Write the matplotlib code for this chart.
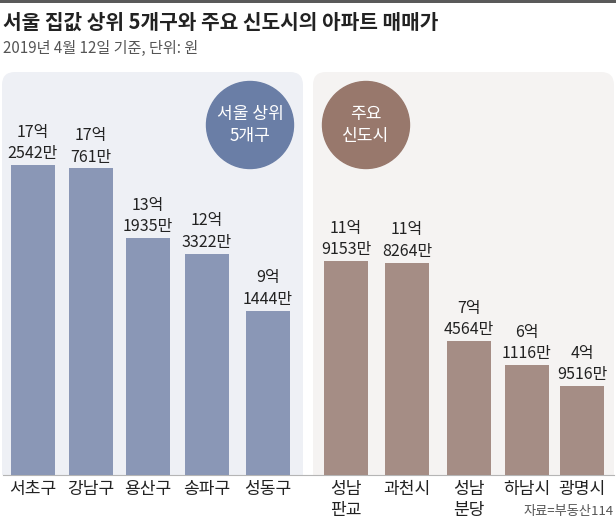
import matplotlib
matplotlib.use('Agg')
import matplotlib.pyplot as plt
from matplotlib.patches import FancyBboxPatch, Circle, Rectangle

plt.rcParams['font.family'] = ['Noto Sans CJK KR', 'DejaVu Sans']

# data: 억 units
seoul_names = ['서초구', '강남구', '용산구', '송파구', '성동구']
seoul_values = [17.2542, 17.0761, 13.1935, 12.3322, 9.1444]
seoul_labels = ['17억\n2542만', '17억\n761만', '13억\n1935만', '12억\n3322만', '9억\n1444만']

city_names = ['성남\n판교', '과천시', '성남\n분당', '하남시', '광명시']
city_values = [11.9153, 11.8264, 7.4564, 6.1116, 4.9516]
city_labels = ['11억\n9153만', '11억\n8264만', '7억\n4564만', '6억\n1116만', '4억\n9516만']

W, H = 616, 522
BASE = 475
PX_PER_UNIT = 17.96

fig = plt.figure(figsize=(W / 100, H / 100), dpi=100)
fig.patch.set_facecolor('white')

# background layer in pixel coordinates
bg = fig.add_axes([0, 0, 1, 1])
bg.set_xlim(0, W)
bg.set_ylim(H, 0)
bg.axis('off')

bg.add_patch(Rectangle((0, 0), W, 3, color='#5a5a5a', lw=0))
bg.text(3, 22, '서울 집값 상위 5개구와 주요 신도시의 아파트 매매가', fontsize=14.6,
        fontweight='bold', color='#222222', va='center', ha='left')
bg.text(3, 48, '2019년 4월 12일 기준, 단위: 원', fontsize=10.9, color='#555555',
        va='center', ha='left')

clip = Rectangle((0, 0), W, BASE, transform=bg.transData)
for x0, x1, col in [(2, 303, '#eef0f5'), (313, 614, '#f5f3f2')]:
    p = FancyBboxPatch((x0, 72), x1 - x0, 440, boxstyle='round,pad=0,rounding_size=13',
                       fc=col, ec='none', zorder=0)
    bg.add_patch(p)
    p.set_clip_path(clip)

bg.plot([3, 614], [BASE, BASE], color='#b5b5b5', lw=0.8, zorder=1)

bg.add_patch(Circle((250, 125), 43.5, color='#6a7ea6', zorder=2))
bg.add_patch(Circle((366, 125), 43.5, color='#98786c', zorder=2))
bg.text(250, 125, '서울 상위\n5개구', color='white', fontsize=12.3, fontweight='medium',
        ha='center', va='center', linespacing=1.25, zorder=3)
bg.text(366, 125, '주요\n신도시', color='white', fontsize=12.3, fontweight='medium',
        ha='center', va='center', linespacing=1.25, zorder=3)

bg.text(614, 512, '자료=부동산114', fontsize=9.5, color='#555555', ha='right', va='center')

# bar layer: x in pixels, y in 억
ax = fig.add_axes([0, (H - BASE) / H, 1, BASE / H])
ax.set_xlim(0, W)
ax.set_ylim(0, BASE / PX_PER_UNIT)
ax.axis('off')
ax.patch.set_alpha(0)

seoul_x = [32.5, 91, 148, 206.5, 268]
city_x = [346, 407, 469, 527, 582]
bar_w = 44

for xs, vals, labels, names, col in [
    (seoul_x, seoul_values, seoul_labels, seoul_names, '#8a97b6'),
    (city_x, city_values, city_labels, city_names, '#a58d85'),
]:
    ax.bar(xs, vals, width=bar_w, color=col, zorder=2)
    for x, v, lab in zip(xs, vals, labels):
        ax.annotate(lab, (x, v), xytext=(0, 2), textcoords='offset points',
                    ha='center', va='bottom', fontsize=11.5, color='#222222',
                    linespacing=1.35)
    for x, n in zip(xs, names):
        bg.text(x, 480, n, ha='center', va='top', fontsize=12.3, color='#222222',
                linespacing=1.2)

fig.savefig('out.png', dpi=100)
